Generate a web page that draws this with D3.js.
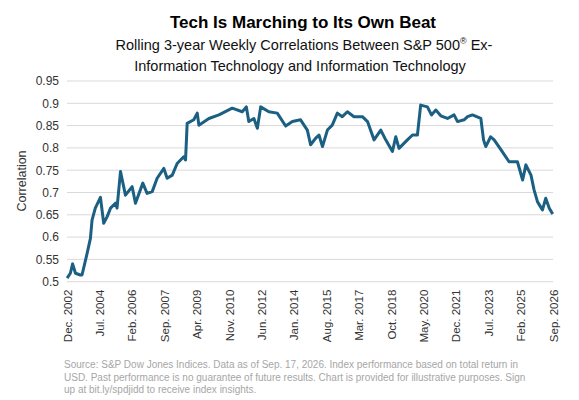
<!DOCTYPE html>
<html><head><meta charset="utf-8">
<script src="https://cdn.jsdelivr.net/npm/d3@7"></script>
<style>body{margin:0;background:#fff}svg{font-family:"Liberation Sans",Arial,sans-serif}</style>
</head><body><svg id="c" width="579" height="400"></svg>
<script>
const years=[2002.92,2003.08,2003.19,2003.33,2003.57,2003.65,2003.90,2004.06,2004.14,2004.30,2004.55,2004.71,2004.88,2005.04,2005.28,2005.36,2005.53,2005.77,2006.10,2006.26,2006.62,2006.83,2007.08,2007.32,2007.65,2007.81,2008.06,2008.30,2008.62,2008.71,2008.79,2009.11,2009.28,2009.36,2009.85,2010.34,2010.99,2011.48,2011.68,2011.80,2012.05,2012.22,2012.38,2012.78,2013.19,2013.60,2013.93,2014.33,2014.66,2014.82,2015.07,2015.23,2015.40,2015.64,2015.88,2016.13,2016.37,2016.62,2016.94,2017.35,2017.60,2017.92,2018.25,2018.49,2018.82,2018.98,2019.14,2019.55,2019.80,2020.04,2020.20,2020.53,2020.73,2020.94,2021.18,2021.51,2021.83,2022.00,2022.32,2022.49,2022.73,2023.14,2023.27,2023.38,2023.62,2023.79,2024.12,2024.36,2024.52,2024.93,2025.18,2025.34,2025.59,2025.74,2025.91,2026.15,2026.31,2026.48,2026.65];
const corr=[0.508,0.519,0.540,0.519,0.515,0.515,0.564,0.597,0.638,0.665,0.689,0.631,0.646,0.665,0.676,0.665,0.747,0.694,0.713,0.676,0.721,0.698,0.702,0.732,0.754,0.732,0.739,0.765,0.780,0.773,0.855,0.863,0.878,0.851,0.866,0.874,0.889,0.881,0.892,0.859,0.866,0.844,0.892,0.881,0.878,0.849,0.859,0.863,0.840,0.807,0.822,0.829,0.803,0.840,0.851,0.878,0.870,0.881,0.870,0.870,0.859,0.818,0.840,0.818,0.792,0.825,0.799,0.818,0.829,0.829,0.896,0.892,0.874,0.885,0.872,0.866,0.874,0.859,0.863,0.870,0.874,0.866,0.818,0.803,0.825,0.818,0.796,0.780,0.769,0.769,0.728,0.762,0.739,0.706,0.679,0.661,0.687,0.665,0.652];
const yTicks=[0.5,0.55,0.6,0.65,0.7,0.75,0.8,0.85,0.9,0.95];
const xTickLabels=["Dec. 2002","Jul. 2004","Feb. 2006","Sep. 2007","Apr. 2009","Nov. 2010","Jun. 2012","Jan. 2014","Aug. 2015","Mar. 2017","Oct. 2018","May. 2020","Dec. 2021","Jul. 2023","Feb. 2025","Sep. 2026"];
const sourceLines=["Source: S&P Dow Jones Indices. Data as of Sep. 17, 2026. Index performance based on total return in","USD.  Past performance is no guarantee of future results. Chart is provided for illustrative purposes. Sign","up at bit.ly/spdjidd to receive index insights."];

const toDate=y=>{const yr=Math.floor(y);return new Date(yr,0,1+Math.round((y-yr)*365));};
const svg=d3.select("#c");
const L=67,R=553,T=81,B=281.7;
const x=d3.scaleTime().domain([new Date(2002,11,1),new Date(2026,8,1)]).range([L,R]);
const y=d3.scaleLinear().domain([0.5,0.95]).range([B,T]);

svg.append("text").attr("x",303).attr("y",28).attr("text-anchor","middle").attr("font-size",17).attr("font-weight","bold").text("Tech Is Marching to Its Own Beat");
const st=svg.append("text").attr("x",304).attr("y",50).attr("text-anchor","middle").attr("font-size",14.5).attr("fill","#111");
st.append("tspan").text("Rolling 3-year Weekly Correlations Between S&P 500");
st.append("tspan").attr("font-size",9).attr("dy",-6).text("®");
st.append("tspan").attr("dy",6).text(" Ex-");
svg.append("text").attr("x",300).attr("y",71).attr("text-anchor","middle").attr("font-size",14.5).attr("fill","#111").text("Information Technology and Information Technology");

const ya=svg.append("g").attr("transform",`translate(${L-4},0)`).call(d3.axisLeft(y).tickValues(yTicks).tickSize(0).tickPadding(4).tickFormat(d=>d3.format("")(+d.toFixed(2))));
ya.select(".domain").remove();
ya.selectAll("text").attr("font-size",12).attr("fill","#333").attr("font-family","Liberation Sans, Arial");
svg.append("g").selectAll("line").data(yTicks).join("line").attr("x1",L).attr("x2",R).attr("y1",d=>y(d)).attr("y2",d=>y(d)).attr("stroke","#d9d9d9").attr("stroke-width",1);

const tickDates=xTickLabels.map((s,i)=>d3.timeMonth.offset(new Date(2002,11,1),19*i));
const xa=svg.append("g").attr("transform",`translate(0,${B})`).call(d3.axisBottom(x).tickValues(tickDates).tickSize(0).tickFormat((d,i)=>xTickLabels[i]));
xa.select(".domain").remove();
xa.selectAll("text").attr("font-size",11.5).attr("fill","#333").attr("font-family","Liberation Sans, Arial").attr("text-anchor","end").attr("transform","rotate(-90)").attr("x",-8).attr("y",0).attr("dy","0.35em");

svg.append("text").attr("transform","translate(26,181) rotate(-90)").attr("text-anchor","middle").attr("font-size",12.5).attr("fill","#333").text("Correlation");

const data=years.map((v,i)=>({d:toDate(v),v:corr[i]}));
svg.append("path").datum(data).attr("fill","none").attr("stroke","#1b5f82").attr("stroke-width",3).attr("stroke-linejoin","round").attr("d",d3.line().x(d=>x(d.d)).y(d=>y(d.v)));

svg.append("g").selectAll("text").data(sourceLines).join("text").attr("x",64).attr("y",(d,i)=>368+i*12.5).attr("font-size",10).attr("fill","#a6a6a6").text(d=>d);
</script></body></html>
